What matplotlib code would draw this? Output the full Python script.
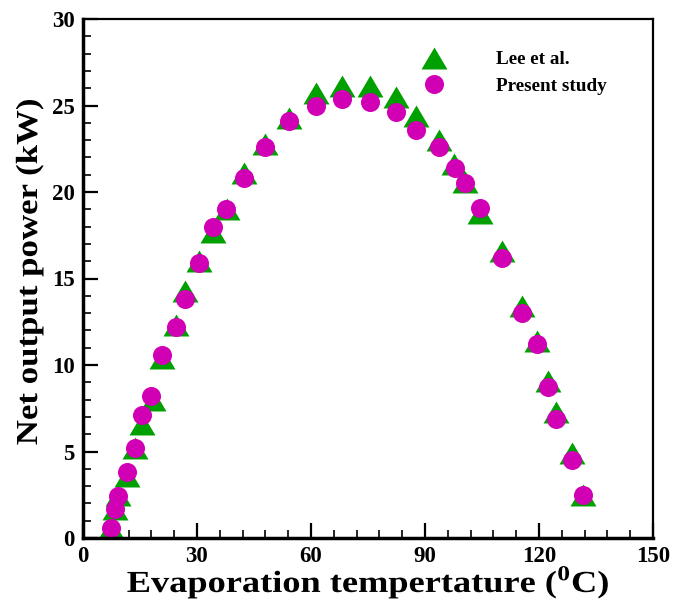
import matplotlib
matplotlib.use("Agg")
import matplotlib.pyplot as plt
from matplotlib.ticker import MultipleLocator
from matplotlib.patheffects import AbstractPathEffect
from matplotlib.transforms import Affine2D

plt.rcParams['font.family'] = ['Liberation Serif', 'DejaVu Serif']
plt.rcParams['font.weight'] = 'bold'
plt.rcParams['mathtext.fontset'] = 'custom'
plt.rcParams['mathtext.rm'] = 'Liberation Serif:bold'
plt.rcParams['mathtext.bf'] = 'Liberation Serif:bold'

# Evaporation temperature (degC) and net output power (kW)
temp_lee = [7.4, 8.4, 9.2, 11.6, 13.6, 15.5, 18.4, 20.9, 24.4, 26.9, 30.4, 34.2,
            37.9, 42.4, 47.9, 54.3, 61.4, 68.2, 75.5, 82.3, 87.5, 93.7, 97.6,
            100.4, 104.4, 110.3, 115.4, 119.4, 122.4, 124.6, 128.6, 131.5]
power_lee = [0.6, 1.7, 2.5, 3.6, 5.2, 6.6, 8.0, 10.4, 12.3, 14.3, 16.0, 17.7,
             19.0, 21.1, 22.8, 24.3, 25.7, 26.1, 26.1, 25.5, 24.4, 23.0, 21.6,
             20.6, 18.8, 16.6, 13.4, 11.4, 9.1, 7.3, 4.9, 2.5]

temp_present = [7.4, 8.4, 9.2, 11.5, 13.6, 15.5, 18.0, 20.9, 24.4, 26.9, 30.4, 34.1,
                37.7, 42.4, 47.9, 54.3, 61.4, 68.2, 75.5, 82.3, 87.5, 93.7, 97.8,
                100.4, 104.4, 110.3, 115.4, 119.4, 122.4, 124.6, 128.6, 131.5]
power_present = [0.6, 1.7, 2.4, 3.8, 5.2, 7.1, 8.2, 10.6, 12.2, 13.8, 15.9, 18.0,
                 19.0, 20.8, 22.6, 24.1, 25.0, 25.4, 25.2, 24.6, 23.6, 22.6, 21.4,
                 20.5, 19.1, 16.2, 13.0, 11.2, 8.7, 6.9, 4.5, 2.5]

series_labels = ['Lee et al.', 'Present study']
x_ticks = [0, 30, 60, 90, 120, 150]
y_ticks = [0, 5, 10, 15, 20, 25, 30]

green = '#00a000'
magenta = '#d200b4'


class Stretch(AbstractPathEffect):
    """Widen a text path about its own centre."""

    def __init__(self, sx=1.0, sy=1.0):
        super().__init__()
        self.sx, self.sy = sx, sy

    def draw_path(self, renderer, gc, tpath, affine, rgbFace=None):
        bb = tpath.get_extents(affine)
        cx, cy = (bb.x0 + bb.x1) / 2, (bb.y0 + bb.y1) / 2
        t = affine + Affine2D().translate(-cx, -cy).scale(self.sx, self.sy).translate(cx, cy)
        renderer.draw_path(gc, tpath, t, rgbFace)


# slightly flattened triangle symbol
tri = [(0, 0.846), (-1, -0.846), (1, -0.846), (0, 0.846)]

fig = plt.figure(figsize=(6.89, 6.02), dpi=100)
ax = fig.add_axes([83 / 689, 64 / 602, 570 / 689, 519 / 602])

ax.plot(temp_lee, power_lee, linestyle='none', marker=tri, markersize=18.7,
        color=green, markeredgewidth=0, clip_on=False, label=series_labels[0])
ax.plot(temp_present, power_present, linestyle='none', marker='o', markersize=13.7,
        color=magenta, markeredgewidth=0, clip_on=False, label=series_labels[1])

ax.set_xlim(x_ticks[0], x_ticks[-1])
ax.set_ylim(y_ticks[0], y_ticks[-1])
ax.set_xticks(x_ticks)
ax.set_yticks(y_ticks)
ax.xaxis.set_minor_locator(MultipleLocator(6))
ax.yaxis.set_minor_locator(MultipleLocator(1))
ax.tick_params(which='both', direction='in', top=False, right=False,
               labelsize=16.5, pad=6)
ax.tick_params(which='major', length=10.8, width=1.6)
ax.tick_params(which='minor', length=5.8, width=1.2)
for lab in ax.get_xticklabels() + ax.get_yticklabels():
    lab.set_fontweight('bold')

ax.spines['left'].set_linewidth(2.5)
ax.spines['bottom'].set_linewidth(2.5)
ax.spines['top'].set_linewidth(1.6)
ax.spines['right'].set_linewidth(1.6)

xl = ax.set_xlabel(r'Evaporation tempertature ($^{\mathbf{0}}$C)', fontsize=22,
                   fontweight='bold')
xl.set_va('baseline')
xl.set_path_effects([Stretch(sx=1.19)])
ax.xaxis.set_label_coords(0.5, (538 - 592) / 519)

yl = ax.set_ylabel('Net output power (kW)', fontsize=22, fontweight='bold')
yl.set_path_effects([Stretch(sy=1.14)])
ax.yaxis.set_label_coords((44 - 83) / 570, (538 - 272) / 519)

leg = ax.legend(loc='upper left', bbox_to_anchor=(0.5825, 0.9385), frameon=False,
                handlelength=2.0, handletextpad=2.2,
                labelspacing=0.49, borderpad=0, borderaxespad=0,
                prop={'weight': 'bold', 'size': 13.8})

fig.savefig('out.png', dpi=100)
